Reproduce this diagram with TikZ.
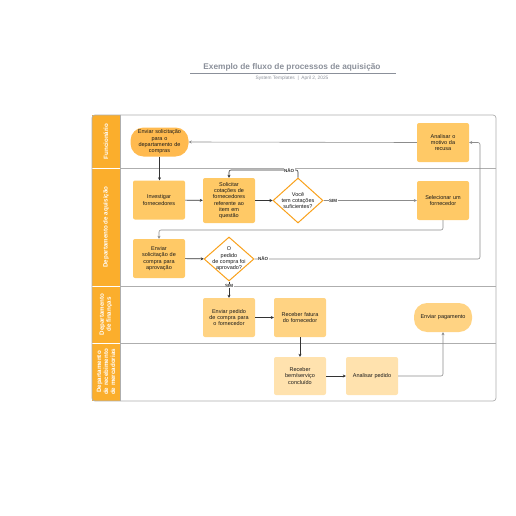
\documentclass[tikz,border=0pt]{standalone}
\usepackage{fontspec}
\setmainfont{Liberation Sans}
\usetikzlibrary{shapes.geometric,arrows.meta}
\definecolor{hdr}{HTML}{FBAE2C}
\definecolor{boxA}{HTML}{FFC966}
\definecolor{boxT}{HTML}{FFBA4F}
\definecolor{boxB}{HTML}{FFD383}
\definecolor{boxC}{HTML}{FFE2AE}
\definecolor{dia}{HTML}{F9A11B}
\definecolor{lane}{HTML}{AEAEAE}
\definecolor{ttl}{HTML}{8B909A}
\definecolor{ln}{HTML}{333333}
\definecolor{lnl}{HTML}{8C8C8C}
\begin{document}
\begin{tikzpicture}[x=1pt,y=-1pt,
  txt/.style={font=\fontsize{5.5}{6.3}\selectfont, align=center, text=black!90},
  proc/.style={txt, rectangle, rounded corners=2pt, minimum width=52pt, minimum height=39pt, inner sep=1pt, text width=50pt},
  term/.style={txt, rectangle, rounded corners=13pt, minimum width=58pt, minimum height=29pt, inner sep=1pt, text width=56pt},
  decide/.style={diamond, draw=dia, line width=1pt, fill=white, minimum width=50pt, minimum height=45pt, inner sep=0pt},
  dlab/.style={txt},
  lanetxt/.style={font=\fontsize{6.2}{7}\selectfont\bfseries, text=white, align=center, rotate=90},
  arr/.style={draw=ln, line width=0.6pt, -{Stealth[length=3pt,width=3pt]}},
  arrl/.style={draw=lnl, line width=0.6pt, -{Stealth[length=3pt,width=3pt]}, rounded corners=2pt},
  elab/.style={font=\fontsize{4.5}{5}\selectfont\bfseries, fill=white, inner sep=0.5pt, text=black!80}
]
\useasboundingbox (0,0) rectangle (516,516);
% title
\node[font=\fontsize{8.3}{10}\selectfont\bfseries, text=ttl] (title) at (292,67) {Exemplo de fluxo de processos de aquisição};
\draw[ttl, line width=0.5pt] (190,73) -- (396,73);
\node[font=\fontsize{4.8}{5.5}\selectfont, text=ttl] (sub) at (292,78) {System Templates \ \textbar\ \ April 2, 2025};
% pool
\fill[hdr] (92,115) rectangle (120,401);
\draw[lane, line width=0.6pt] (120,168) -- (496,168);
\draw[lane, line width=0.6pt] (120,286) -- (496,286);
\draw[lane, line width=0.6pt] (120,343) -- (496,343);
\draw[white, line width=0.8pt] (92,168) -- (120,168) (92,286) -- (120,286) (92,343) -- (120,343);
\draw[lane, line width=0.6pt] (120,115) -- (120,401);
\draw[lane, line width=0.7pt, rounded corners=3pt] (92,115) rectangle (496,401);
\node[lanetxt] (l1) at (106,141.5) {Funcionário};
\node[lanetxt] (l2) at (106,227) {Departamento de aquisição};
\node[lanetxt] (l3) at (106,314.5) {Departamento\\de finanças};
\node[lanetxt] (l4) at (106,372) {Departamento\\de recebimento\\de mercadorias};
% nodes
\node[term, fill=boxT] (t1) at (159.5,142) {Enviar solicitação\\para o\\departamento de\\compras};
\node[proc, fill=boxA] (ana) at (443,142.5) {Analisar o\\motivo da\\recusa};
\node[proc, fill=boxA] (inv) at (159,200) {Investigar\\fornecedores};
\node[proc, fill=boxA, minimum height=45pt] (sol) at (229,200.5) {Solicitar\\cotações de\\fornecedores\\referente ao\\item em\\questão};
\node[decide, label={[dlab]center:{Você\\tem cotações\\suficientes?}}] (d1) at (298,200.5) {};
\node[proc, fill=boxA] (sel) at (443,200.5) {Selecionar um\\fornecedor};
\node[proc, fill=boxA] (env) at (159,258.5) {Enviar\\solicitação de\\compra para\\aprovação};
\node[decide, minimum height=44pt, label={[dlab]center:{O\\pedido\\de compra foi\\aprovado?}}] (d2) at (229,259) {};
\node[proc, fill=boxB] (ped) at (229,317.5) {Enviar pedido\\de compra para\\o fornecedor};
\node[proc, fill=boxB] (fat) at (300,317.5) {Receber fatura\\do fornecedor};
\node[term, fill=boxB] (pag) at (443,317.5) {Enviar pagamento};
\node[proc, fill=boxC, minimum height=38pt] (bem) at (300,376) {Receber\\bem/serviço\\concluído};
\node[proc, fill=boxC, minimum height=38pt] (anp) at (372,376) {Analisar pedido};
% edges
\draw[arr] (t1.south) -- (inv.north -| t1.south);
\draw[arr] (inv) -- (sol);
\draw[arr] (sol) -- (d1);
\draw[arrl] (d1.east) -- (sel.west);
\node[elab] (sim1) at (333,200.5) {SIM};
\draw[arr, rounded corners=2pt] (d1.north) -- ++(0,-7.5) -| (sol.north);
\node[elab] (nao1) at (289,170.5) {NÃO};
\coordinate (c1) at (443,230);
\draw[arrl] (sel.south) -- (c1) -| (env.north);
\draw[arr] (env) -- (d2);
\coordinate (c2) at (480,259);
\draw[arrl] (d2.east) -- (c2) |- (ana.east);
\node[elab] (nao2) at (263,259) {NÃO};
\draw[arrl] (ana.west) -- (t1.east);
\draw[arr] (d2.south) -- (ped.north);
\node[elab] (sim2) at (229,286) {SIM};
\draw[arr] (ped) -- (fat);
\draw[arr] (fat) -- (bem);
\draw[arr] (bem) -- (anp);
\draw[arrl] (anp.east) -| (pag.south);
\end{tikzpicture}
\end{document}
